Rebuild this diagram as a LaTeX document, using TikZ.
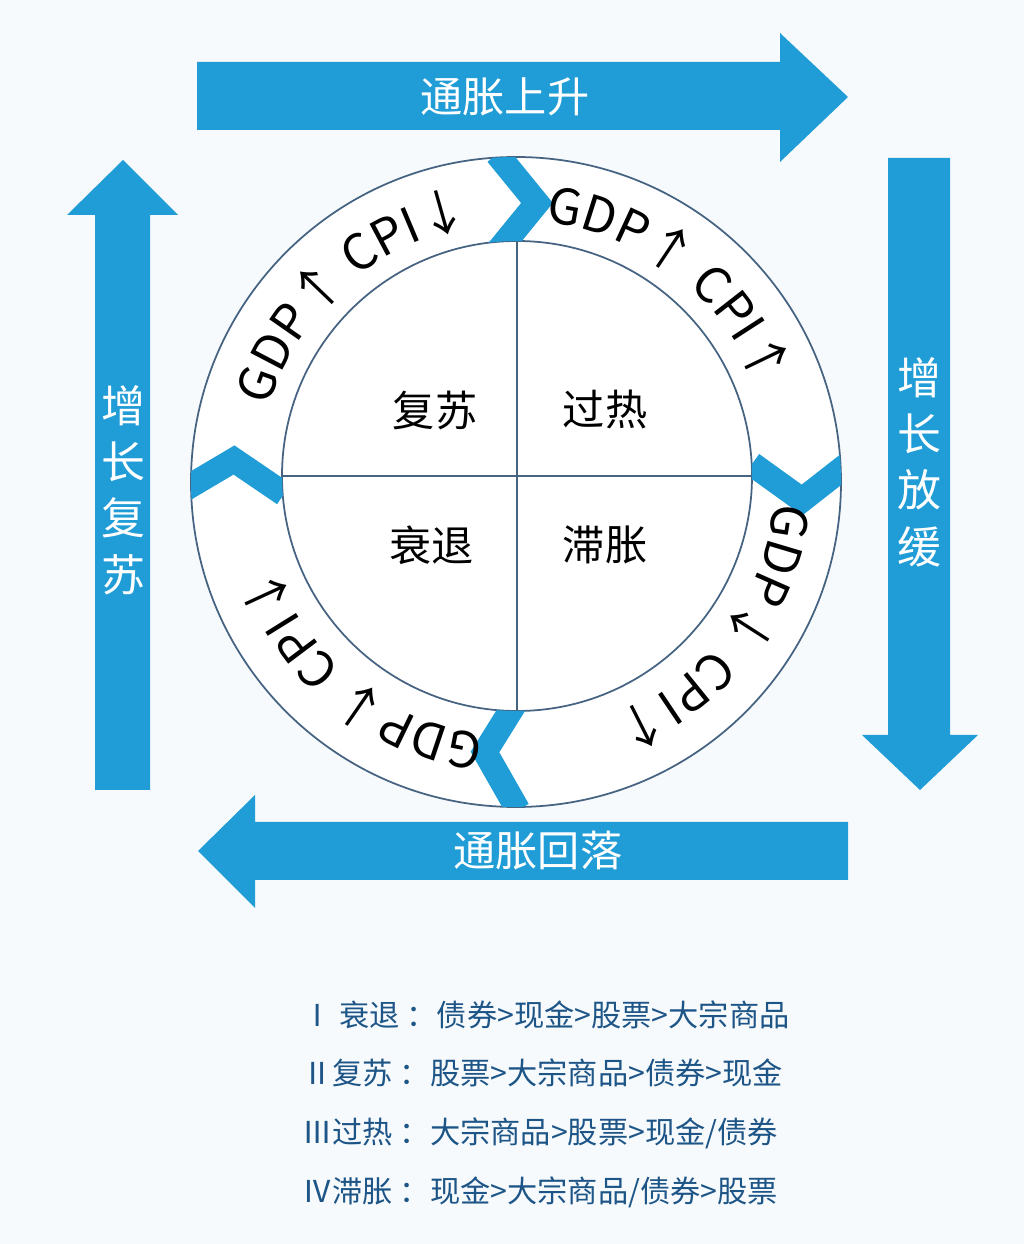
\documentclass[tikz,border=0pt]{standalone}
\usepackage{fontspec}
\setmainfont{Noto Sans CJK SC}
\usetikzlibrary{decorations.text}
\definecolor{bl}{RGB}{32,156,214}
\definecolor{bg}{RGB}{246,250,253}
\definecolor{ln}{RGB}{70,100,130}
\definecolor{tx}{RGB}{30,85,135}
\tikzset{bigarrow/.style={fill=bl,draw=none},
arrtext/.style={text=white,font=\fontsize{12pt}{12pt}\selectfont},
vtext/.style={text=white,font=\fontsize{12.5pt}{16pt}\selectfont,align=center},
quad/.style={font=\fontsize{12pt}{12pt}\selectfont},
chev/.style={draw=bl,line width=7pt,miter limit=10},
listtext/.style={text=tx,anchor=west,font=\fontsize{8.6pt}{9pt}\selectfont},
ringtext/.style={decorate,decoration={text along path,text align=center,text format delimiters={|}{|}}}}
\begin{document}
\begin{tikzpicture}[x=0.01cm,y=0.01cm]
\useasboundingbox (0,0) rectangle (1024,1244);
\fill[bg] (0,0) rectangle (1024,1244);
% big arrows
\fill[bigarrow] (197,1182)--(780,1182)--(780,1211)--(848,1147)--(780,1082)--(780,1114)--(197,1114)--cycle;
\node[arrtext] (up) at (505,1147) {通胀上升};
\fill[bigarrow] (888,1086)--(950,1086)--(950,509)--(978,509)--(920,454)--(862,509)--(888,509)--cycle;
\node[vtext] (slow) at (919,782) {增\\长\\放\\缓};
\fill[bigarrow] (848,422)--(255,422)--(255,449)--(198,393)--(255,336)--(255,364)--(848,364)--cycle;
\node[arrtext] (down) at (538,393) {通胀回落};
\fill[bigarrow] (95,454)--(150,454)--(150,1029)--(178,1029)--(123,1084)--(67,1029)--(95,1029)--cycle;
\node[vtext] (rec) at (123,754) {增\\长\\复\\苏};
% circles
\fill[white] (516,762) circle[radius=325];
\draw[ln,line width=0.5pt] (516,762) circle[radius=325];
\draw[ln,line width=0.5pt] (517,768) circle[radius=235];
\draw[ln,line width=0.5pt] (517,1003)--(517,533);
\draw[ln,line width=0.5pt] (282,768)--(752,768);
% chevrons
\begin{scope}[even odd rule]
\clip (516,762) circle[radius=325] (517,768) circle[radius=235];
\draw[chev] (497,1090)--(537,1041)--(497,992);
\draw[chev] (752,780)--(802,744)--(848,780);
\draw[chev] (518,545)--(485,492)--(518,434);
\draw[chev] (185,755)--(234,784)--(284,750);
\end{scope}
% ring texts
\path[ringtext,decoration={text={|\fontsize{14pt}{14pt}\selectfont|GDP↑ CPI↓}}] (517,765) ++(172:258) arc[start angle=172,end angle=92,radius=258];
\path[ringtext,decoration={text={|\fontsize{14pt}{14pt}\selectfont|GDP↑ CPI↑}}] (517,765) ++(92:258) arc[start angle=92,end angle=12,radius=258];
\path[ringtext,decoration={text={|\fontsize{14pt}{14pt}\selectfont|GDP↓ CPI↑}}] (517,765) ++(3:258) arc[start angle=3,end angle=-77,radius=258];
\path[ringtext,decoration={text={|\fontsize{14pt}{14pt}\selectfont|GDP↓ CPI↓}}] (517,765) ++(-89:258) arc[start angle=-89,end angle=-169,radius=258];
% quadrant labels
\node[quad] (q1) at (435,834) {复苏};
\node[quad] (q2) at (605,834) {过热};
\node[quad] (q3) at (432,699) {衰退};
\node[quad] (q4) at (605,699) {滞胀};
% list
\node[listtext] (l1) at (290,229) {Ⅰ 衰退 ：债券>现金>股票>大宗商品};
\node[listtext] (l2) at (290,171) {Ⅱ复苏 ：股票>大宗商品>债券>现金};
\node[listtext] (l3) at (290,111) {Ⅲ过热 ：大宗商品>股票>现金/债券};
\node[listtext] (l4) at (290,52) {Ⅳ滞胀 ：现金>大宗商品/债券>股票};
\end{tikzpicture}
\end{document}
